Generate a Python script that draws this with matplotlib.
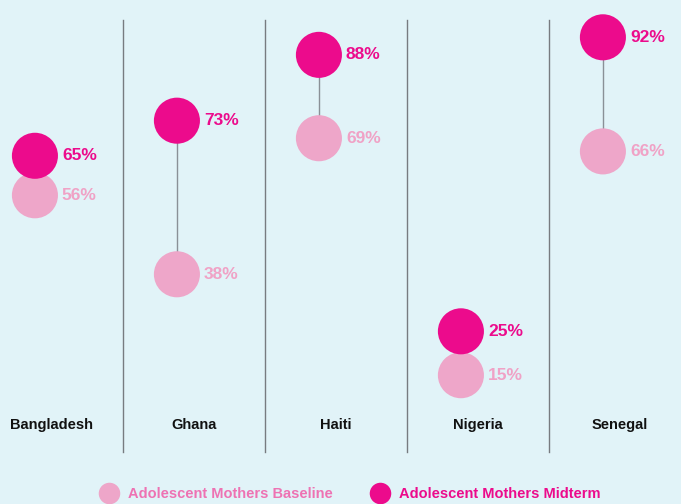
import numpy as np
import matplotlib.pyplot as plt
from matplotlib.lines import Line2D

# dados
countries = ["Bangladesh", "Ghana", "Haiti", "Nigeria", "Senegal"]
baseline = [56, 38, 69, 15, 66]
midterm = [65, 73, 88, 25, 92]

bg = "#e1f3f8"
pink_light = "#eea6c9"
pink_text = "#f0a2c6"
magenta = "#ec0b8c"
legend_light = "#ee72b3"

plt.rcParams["font.family"] = ["Liberation Sans", "DejaVu Sans"]

fig = plt.figure(figsize=(6.81, 5.04), dpi=100, facecolor=bg)
ax = fig.add_axes([0, 0, 1, 1])
ax.set_facecolor(bg)
ax.set_xlim(-0.366, 4.43)
ax.set_ylim(-14.35, 100.5)
ax.axis("off")

x = np.arange(len(countries))
xc = x - 0.12

# linhas separadoras entre países
for b in x[:-1] + 0.5:
    ax.plot([b, b], [-2.5, 95.9], color="#777b80", lw=1.0, zorder=1)

# linha ligando baseline e midterm
for i in range(len(countries)):
    ax.plot([xc[i], xc[i]], [baseline[i], midterm[i]], color="#8a9097", lw=1.0, zorder=2)

ax.scatter(xc, baseline, s=1100, color=pink_light, edgecolors="none", zorder=3)
ax.scatter(xc, midterm, s=1100, color=magenta, edgecolors="none", zorder=4)

for i in range(len(countries)):
    ax.text(xc[i] + 0.19, baseline[i], f"{baseline[i]}%", color=pink_text,
            fontsize=12.5, fontweight="bold", va="center", ha="left", zorder=5)
    ax.text(xc[i] + 0.19, midterm[i], f"{midterm[i]}%", color=magenta,
            fontsize=12.5, fontweight="bold", va="center", ha="left", zorder=5)
    ax.text(x[i], 3.6, countries[i], color="#111111", fontsize=10.5,
            fontweight="bold", ha="center", va="center")

handles = [
    Line2D([], [], marker="o", ls="none", ms=15.5, color=pink_light, markeredgewidth=0),
    Line2D([], [], marker="o", ls="none", ms=15.5, color=magenta, markeredgewidth=0),
]
leg = fig.legend(handles, ["Adolescent Mothers Baseline", "Adolescent Mothers Midterm"],
                 loc="center", bbox_to_anchor=(0.51, 0.02), ncol=2, frameon=False,
                 handletextpad=0.3, columnspacing=2.2, prop={"weight": "bold", "size": 10.5},
                 labelcolor=[legend_light, magenta])

fig.savefig("out.png", dpi=100, facecolor=bg)
